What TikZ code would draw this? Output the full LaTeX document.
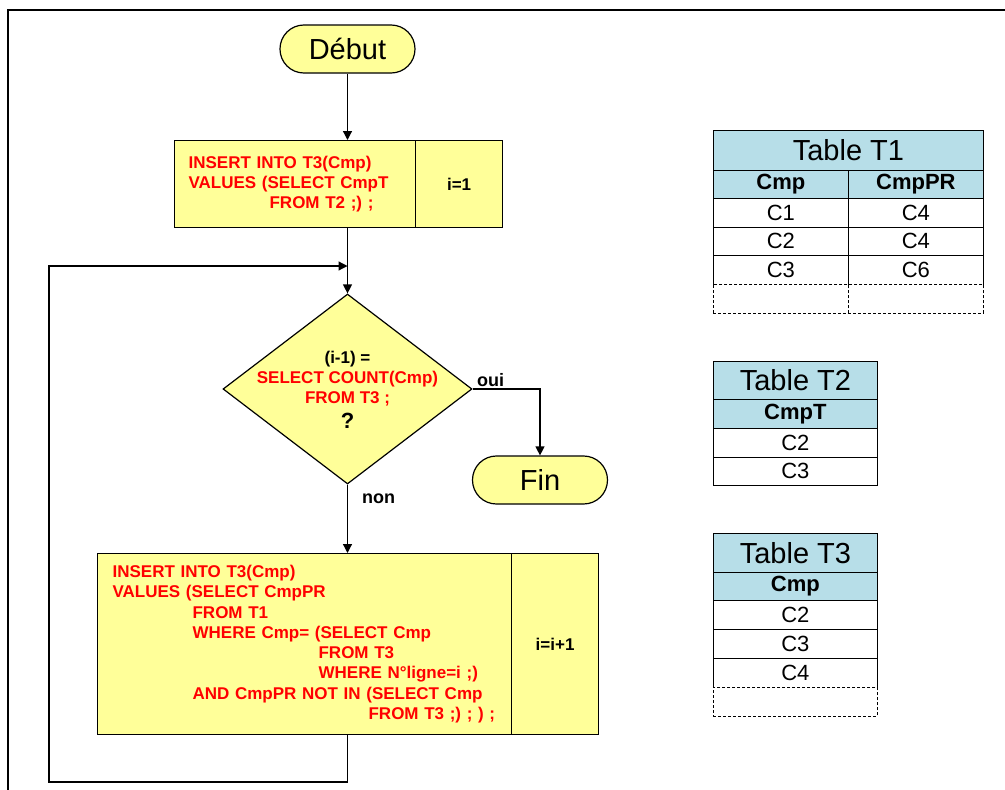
\documentclass[tikz,border=0pt]{standalone}
\usepackage{fontspec}
\setmainfont{Liberation Sans}
\usetikzlibrary{arrows.meta,shapes.geometric,calc}
\definecolor{boxyellow}{HTML}{FFFF99}
\definecolor{hdrcyan}{HTML}{B7DEE8}
\definecolor{sqlred}{HTML}{FF0000}
\tikzset{
  conn/.style={line width=1.2pt,-{Triangle[length=9pt,width=9pt]}},
  term/.style={draw,line width=1.2pt,fill=boxyellow,rounded corners=23.9pt,
    minimum width=135pt,minimum height=48pt,inner sep=0pt,
    font=\fontsize{29}{34}\selectfont},
  proc/.style={draw,line width=1.2pt,fill=boxyellow,inner sep=0pt,anchor=north west},
  sql/.style={text=sqlred,font=\fontsize{17}{20.3}\selectfont\bfseries,align=left},
  cnt/.style={font=\fontsize{17}{20}\selectfont\bfseries},
  lbl/.style={inner sep=0pt,font=\fontsize{18}{20}\selectfont\bfseries},
  tcell/.style={draw,line width=0.8pt,inner sep=0pt,anchor=north west,
    font=\fontsize{22}{26}\selectfont},
  topen/.style={tcell,draw=none},
  tdash/.style={tcell,dash pattern=on 3pt off 2pt},
  thead/.style={tcell,fill=hdrcyan,font=\fontsize{22}{26}\selectfont\bfseries},
  ttitle/.style={tcell,fill=hdrcyan,font=\fontsize{29}{34}\selectfont},
  tline/.style={line width=0.8pt}
}
\begin{document}
\begin{tikzpicture}[x=1pt,y=-1pt]
\useasboundingbox (0,0) rectangle (1005,790);
% frame
\draw[line width=2pt] (8,790) -- (8,10) -- (1005,10);

% flowchart
\node[term] (debut) at (347.5,49) {Début};
\node[proc,sql,minimum width=241pt,minimum height=87pt,text width=213pt,inner xsep=14pt] (b1) at (174,140)
  {INSERT INTO T3(Cmp)\\VALUES (SELECT CmpT\\\hspace*{81pt}FROM T2 ;) ;};
\node[proc,cnt,minimum width=87pt,minimum height=87pt] (b1i) at (415,140) {i=1};

\node[diamond,draw,line width=1.2pt,fill=boxyellow,minimum width=249pt,minimum height=190pt,inner sep=0pt] (d) at (347.5,389) {};
\node[cnt,align=center,inner sep=0pt] (dq) at (347.5,390)
  {(i-1) =\\\textcolor{sqlred}{SELECT COUNT(Cmp)}\\\textcolor{sqlred}{FROM T3 ;}\\[5pt]{\fontsize{22}{22}\selectfont ?}};

\node[term] (fin) at (540,480) {Fin};

\node[proc,sql,minimum width=414pt,minimum height=181pt,text width=384pt,inner xsep=15pt] (b2) at (97,553)
  {INSERT INTO T3(Cmp)\\
   VALUES (SELECT CmpPR\\
   \hspace*{80pt}FROM T1\\
   \hspace*{80pt}WHERE Cmp= (SELECT Cmp\\
   \hspace*{206pt}FROM T3\\
   \hspace*{206pt}WHERE N°ligne=i ;)\\
   \hspace*{80pt}AND CmpPR NOT IN (SELECT Cmp\\
   \hspace*{256pt}FROM T3 ;) ; ) ;};
\node[proc,cnt,minimum width=87pt,minimum height=181pt] (b2i) at (511,553) {i=i+1};

\node[lbl,anchor=base west] (oui) at (477,386) {oui};
\node[lbl,anchor=base west] (non) at (362,503) {non};

\coordinate (lm) at (347.5,266);
\coordinate (lb) at (49,782);

\draw[conn] (debut) -- (debut |- b1.north);
\draw[conn] (lm |- b1.south) -- (d.north);
\draw[conn] (d.east) -| (fin.north);
\draw[conn] (d.south) -- (d.south |- b2.north);
\draw[conn] (lm |- b2.south) -- (lm |- lb) -- (lb) -- (lb |- lm) -- (lm);

% Table T1
\node[ttitle,minimum width=270pt,minimum height=40pt] (t1t) at (713,130) {Table T1};
\node[thead,minimum width=135pt,minimum height=28pt] (t1h1) at (713,170) {Cmp};
\node[thead,minimum width=135pt,minimum height=28pt] (t1h2) at (848,170) {CmpPR};
\node[tcell,minimum width=135pt,minimum height=29pt] (t1r1a) at (713,198) {C1};
\node[tcell,minimum width=135pt,minimum height=29pt] (t1r1b) at (848,198) {C4};
\node[tcell,minimum width=135pt,minimum height=28pt] (t1r2a) at (713,227) {C2};
\node[tcell,minimum width=135pt,minimum height=28pt] (t1r2b) at (848,227) {C4};
\node[topen,minimum width=135pt,minimum height=29pt] (t1r3a) at (713,255) {C3};
\node[topen,minimum width=135pt,minimum height=29pt] (t1r3b) at (848,255) {C6};
\draw[tline] (t1r3a.north west) -- (t1r3a.south west);
\draw[tline] (t1r3b.north west) -- (t1r3b.south west);
\draw[tline] (t1r3b.north east) -- (t1r3b.south east);
\node[tdash,minimum width=135pt,minimum height=29pt] (t1r4a) at (713,284) {};
\node[tdash,minimum width=135pt,minimum height=29pt] (t1r4b) at (848,284) {};

% Table T2
\node[ttitle,minimum width=164pt,minimum height=38pt] (t2t) at (713,361) {Table T2};
\node[thead,minimum width=164pt,minimum height=29pt] (t2h) at (713,399) {CmpT};
\node[tcell,minimum width=164pt,minimum height=29pt] (t2r1) at (713,428) {C2};
\node[tcell,minimum width=164pt,minimum height=28pt] (t2r2) at (713,457) {C3};

% Table T3
\node[ttitle,minimum width=164pt,minimum height=39pt] (t3t) at (713,533) {Table T3};
\node[thead,minimum width=164pt,minimum height=28pt] (t3h) at (713,572) {Cmp};
\node[tcell,minimum width=164pt,minimum height=29pt] (t3r1) at (713,600) {C2};
\node[tcell,minimum width=164pt,minimum height=29pt] (t3r2) at (713,629) {C3};
\node[topen,minimum width=164pt,minimum height=29pt] (t3r3) at (713,658) {C4};
\draw[tline] (t3r3.north west) -- (t3r3.south west);
\draw[tline] (t3r3.north east) -- (t3r3.south east);
\node[tdash,minimum width=164pt,minimum height=29pt] (t3r4) at (713,687) {};
\end{tikzpicture}
\end{document}
